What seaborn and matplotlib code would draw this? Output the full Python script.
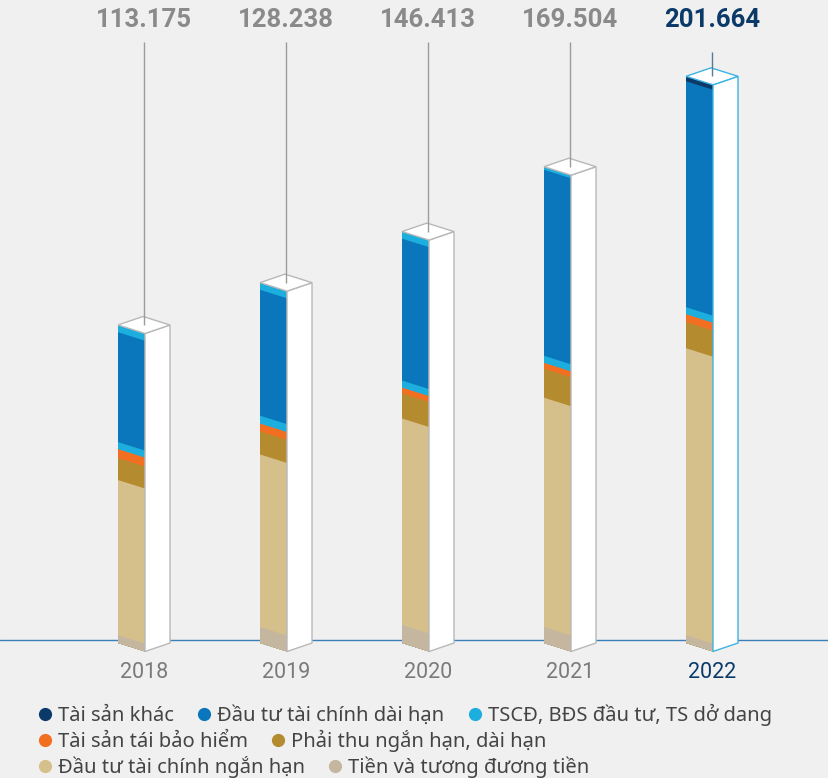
import numpy as np
import pandas as pd
import matplotlib
matplotlib.use("Agg")
import matplotlib.pyplot as plt
import matplotlib.transforms as mtransforms
from matplotlib.patches import Polygon
from matplotlib.lines import Line2D
import seaborn as sns

# ---- data (tỷ đồng) ----
years = ["2018", "2019", "2020", "2021", "2022"]
totals = [113.175, 128.238, 146.413, 169.504, 201.664]
total_labels = ["113.175", "128.238", "146.413", "169.504", "201.664"]

# components, listed from the bottom of the stack upwards
tien = [2.8, 5.7, 6.4, 5.7, 2.8]
dt_ngan_han = [55.2, 61.4, 73.5, 81.6, 102.1]
phai_thu = [7.8, 8.2, 8.9, 10.3, 9.3]
tai_bao_hiem = [3.2, 2.8, 2.1, 2.1, 2.8]
tscd = [2.5, 2.8, 2.5, 2.5, 2.5]
dt_dai_han = [39.1, 44.8, 50.5, 66.2, 80.4]
ts_khac = [2.575, 2.538, 2.513, 1.104, 1.764]

names = ["Tiền và tương đương tiền", "Đầu tư tài chính ngắn hạn",
         "Phải thu ngắn hạn, dài hạn", "Tài sản tái bảo hiểm",
         "TSCĐ, BĐS đầu tư, TS dở dang", "Đầu tư tài chính dài hạn",
         "Tài sản khác"]
colors = ["#c5b79f", "#d5c08c", "#b58b30", "#f26f22",
          "#1caedd", "#0a77bd", "#0b3a68"]
# the topmost slice is shown in cyan before 2022
top_colors = ["#1caedd", "#1caedd", "#1caedd", "#1caedd", "#0b3a68"]

BG = "#f0f0f0"
GREY_TXT = "#8a8a8a"
NAVY = "#0b3a68"

# ---- geometry of the pseudo-3D boxes ----
W, H = 829, 778
PX_Y = 2.81           # pixels per unit
BASE_PX = 643         # pixel row of value 0
STEP = 142            # pixels between categories
FRONT_W = 27 / STEP
SIDE_W = 25 / STEP
DROP = 8.5 / PX_Y
K = DROP / FRONT_W    # shear of the front face

sns.set_theme(style="white")
plt.rcParams["font.family"] = ["Roboto", "DejaVu Sans"]

fig = plt.figure(figsize=(W / 100, H / 100), dpi=100, facecolor=BG)
ax = fig.add_axes([0, 0, 1, 1])
ax.set_facecolor(BG)

layers = [tien, dt_ngan_han, phai_thu, tai_bao_hiem, tscd, dt_dai_han, ts_khac]
cum = np.cumsum(np.array(layers), axis=0)

for j in reversed(range(len(layers))):
    df = pd.DataFrame({"year": years, "value": cum[j]})
    if j == len(layers) - 1:
        pal = dict(zip(years, top_colors))
    else:
        pal = {y: colors[j] for y in years}
    n0 = len(ax.patches)
    sns.barplot(data=df, x="year", y="value", hue="year", palette=pal,
                dodge=False, width=FRONT_W, linewidth=0, legend=False,
                saturation=1, ax=ax, zorder=3)
    for p in ax.patches[n0:]:
        x0 = p.get_x()
        shear = mtransforms.Affine2D(np.array([[1, 0, 0], [-K, 1, K * x0], [0, 0, 1]]))
        p.set_transform(shear + ax.transData)

label_y = (BASE_PX - 20) / PX_Y
year_y = -(673 - BASE_PX) / PX_Y

for i, (yr, T) in enumerate(zip(years, totals)):
    a = i - FRONT_W / 2
    b = i + FRONT_W / 2
    c = b + SIDE_W
    hi = yr == "2022"
    edge = "#3db3e3" if hi else "#b8b8b8"
    side = [(b, -DROP), (c, 0), (c, T), (b, T - DROP)]
    ax.add_patch(Polygon(side, closed=True, facecolor="white", edgecolor=edge,
                         lw=1.0, zorder=4))
    top = [(a, T), (b, T - DROP), (c, T), (a + SIDE_W, T + DROP)]
    ax.add_patch(Polygon(top, closed=True, facecolor="white", edgecolor=edge,
                         lw=1.0, zorder=4))
    cx = (a + c) / 2
    line_top = (BASE_PX - (52 if hi else 42)) / PX_Y
    ax.plot([cx, cx], [T, line_top], color="#5b7a98" if hi else "#9c9c9c",
            lw=1.0, zorder=5, solid_capstyle="butt")
    ax.text(cx, label_y, total_labels[i], ha="center", va="center",
            fontsize=18.5, fontweight="bold", color=NAVY if hi else GREY_TXT)
    ax.text(cx, year_y, yr, ha="center", va="center", fontsize=15.5,
            color=NAVY if hi else "#7a7a7a")

ax.axhline((BASE_PX - 640) / PX_Y, color="#3a7fb5", lw=1.0, zorder=1)

ax.set_xlim(-131.5 / STEP, (W - 131.5) / STEP)
ax.set_ylim(-(H - BASE_PX) / PX_Y, BASE_PX / PX_Y)
ax.axis("off")

# ---- legend, three rows ----
rows = [[6, 5, 4], [3, 2], [1, 0]]
row_y = [715, 741, 767]
for r, ys in zip(rows, row_y):
    handles = [Line2D([], [], marker="o", ls="", markersize=9.5,
                      markerfacecolor=colors[j], markeredgewidth=0)
               for j in r]
    fig.legend(handles, [names[j] for j in r], loc="center left",
               bbox_to_anchor=(38 / W, 1 - ys / H), ncol=len(r),
               frameon=False, borderpad=0, borderaxespad=0,
               handlelength=0.7, handletextpad=0.3, columnspacing=1.15,
               prop={"family": ["Noto Sans", "DejaVu Sans"], "size": 14.5},
               labelcolor="#444444")

fig.savefig("out.png", dpi=100, facecolor=BG)
